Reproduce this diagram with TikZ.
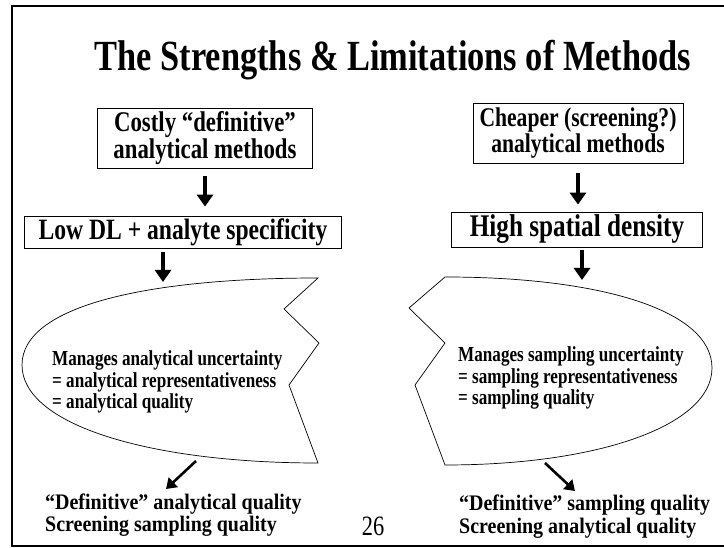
\documentclass[tikz,border=0pt]{standalone}
\usepackage{fontspec}
\setmainfont{Liberation Serif}[FakeStretch=0.8]
\newfontfamily\loosefont{Liberation Serif}[FakeStretch=0.9]
\usetikzlibrary{arrows.meta}
\tikzset{
  px/.style={x=1pt,y=-1pt},
  boxed/.style={draw,line width=0.8pt,inner sep=0pt,align=center},
  bubbletext/.style={inner sep=0pt,anchor=base west,font=\bfseries\fontsize{21.4}{21.5}\selectfont},
  outtext/.style={inner sep=0pt,anchor=base west,font=\loosefont\bfseries\fontsize{22.2}{23}\selectfont},
  fat/.style={line width=3.8pt,-{Triangle[length=12pt,width=16pt]}},
  slim/.style={line width=2.6pt,-{Triangle[length=10pt,width=13pt]}},
  bubble/.style={line width=0.7pt},
}
\begin{document}
\begin{tikzpicture}[px]
\clip (0,0) rectangle (724,548);
\fill[white] (0,0) rectangle (724,548);
% slide frame (right side runs past the edge)
\draw[line width=1.6pt] (735,6) -- (12,6) -- (12,546) -- (735,546);

% title
\node[inner sep=0pt,anchor=base,font=\bfseries\fontsize{43}{48}\selectfont] (title) at (393,71) {The Strengths \& Limitations of Methods};

% method boxes
\node[boxed,minimum width=215pt,minimum height=60pt,font=\bfseries\fontsize{28.5}{24.5}\selectfont] (costly) at (205,138) {Costly “definitive”\\analytical methods};
\node[boxed,minimum width=210pt,minimum height=60pt,font=\bfseries\fontsize{27}{24.5}\selectfont] (cheap) at (578,133) {Cheaper (screening?)\\analytical methods};
\node[boxed,minimum width=317pt,minimum height=32pt,font=\bfseries\fontsize{29.5}{30}\selectfont] (lowdl) at (183,232) {Low DL + analyte specificity};
\node[boxed,minimum width=251pt,minimum height=35pt,font=\bfseries\fontsize{31.5}{32}\selectfont] (dense) at (577,229.5) {High spatial density};

% callout shapes: half ellipse closed by a zigzag edge
\draw[bubble] (318,278) .. controls (150,278) and (22,305) .. (22,365)
  .. controls (22,425) and (150,463) .. (318,463)
  -- (289,385) -- (319,343) -- (284,309) -- cycle;
\draw[bubble] (445,277) .. controls (600,277) and (712,310) .. (712,368)
  .. controls (712,425) and (600,465) .. (445,465)
  -- (415,385) -- (445,343) -- (409,308) -- cycle;

\coordinate (ltop) at (163,282);
\coordinate (rtop) at (582,280);

\node[bubbletext] (l1) at (52,366) {Manages analytical uncertainty};
\node[bubbletext] (l2) at (52,388) {= analytical representativeness};
\node[bubbletext] (l3) at (52,409) {= analytical quality};
\node[bubbletext] (r1) at (458,362) {Manages sampling uncertainty};
\node[bubbletext] (r2) at (458,384) {= sampling representativeness};
\node[bubbletext] (r3) at (458,405) {= sampling quality};

% outcomes
\node[outtext] (lo1) at (45,509) {“Definitive” analytical quality};
\node[outtext] (lo2) at (45,531) {Screening sampling quality};
\node[outtext] (ro1) at (459,511) {“Definitive” sampling quality};
\node[outtext] (ro2) at (459,533) {Screening analytical quality};
\node[inner sep=0pt,anchor=base,font=\fontsize{28}{30}\selectfont] (page) at (373,536) {26};

\coordinate (ls) at (196,461);
\coordinate (le) at (166,489);
\coordinate (rs) at (545,463);
\coordinate (re) at (575,491);

% connectors
\draw[fat] ([yshift=-8pt]costly.south) -- ([yshift=9pt]costly.south |- lowdl.north);
\draw[fat] ([yshift=-10pt]cheap.south) -- ([yshift=7pt]cheap.south |- dense.north);
\draw[fat] ([yshift=-4pt]lowdl.south -| ltop) -- (ltop);
\draw[fat] ([yshift=-3pt]dense.south -| rtop) -- (rtop);
\draw[slim] (ls) -- (le);
\draw[slim] (rs) -- (re);
\end{tikzpicture}
\end{document}
